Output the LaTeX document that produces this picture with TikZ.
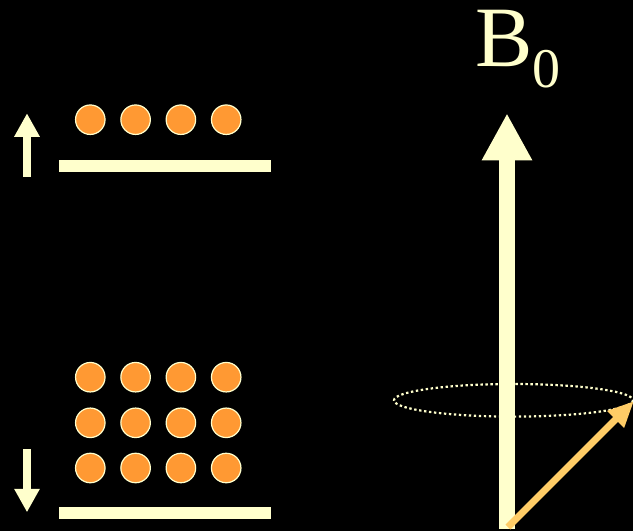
\documentclass[tikz,border=0pt]{standalone}
\usepackage{fontspec}
\setmainfont{Liberation Serif}
\usetikzlibrary{arrows.meta}
\definecolor{pale}{HTML}{FFFFCC}
\definecolor{spin}{HTML}{FF9933}
\definecolor{gold}{HTML}{FFCC66}
\tikzset{
  spindot/.style={circle,fill=spin,draw=pale,line width=1.2pt,minimum size=29.5pt,inner sep=0pt},
  level/.style={draw=pale,line width=12pt},
  spinarrow/.style={draw=pale,line width=7.7pt,-{Triangle[width=24pt,length=23.5pt]},fill=pale}
}
\begin{document}
\begin{tikzpicture}[x=1pt,y=-1pt]
\useasboundingbox (0,0) rectangle (633,531);
\fill[black] (0,0) rectangle (633,531);

\coordinate (upL) at (59,166);
\coordinate (upR) at (271,166);
\coordinate (lowL) at (59,513);
\coordinate (lowR) at (271,513);
\draw[level] (upL)--(upR);
\draw[level] (lowL)--(lowR);

\foreach \i in {1,...,4}
  \node[spindot] (up\i) at ({45+45.3*\i},119.7) {};
\foreach \r/\y in {1/377.2,2/422.8,3/468}
  \foreach \i in {1,...,4}
    \node[spindot] (low\r\i) at ({45+45.3*\i},\y) {};

\coordinate (upS) at (27,176.7);
\coordinate (upE) at (27,113.3);
\coordinate (downS) at (27,449);
\coordinate (downE) at (27,512.3);
\draw[spinarrow] (upS)--(upE);
\draw[spinarrow] (downS)--(downE);

\draw[pale,line width=2.2pt,dash pattern=on 2.4pt off 2.6pt] (513.5,400.3) ellipse (119.5 and 16.3);

\coordinate (fieldS) at (507,529);
\coordinate (fieldE) at (507,113.3);
\draw[pale,fill=pale,line width=16pt,-{Triangle[width=47pt,length=47pt]}] (fieldS)--(fieldE);

\coordinate (momS) at (508,527);
\coordinate (momE) at (634,401);
\draw[gold,fill=gold,line width=7pt,-{Triangle[width=22pt,length=26pt]}] (momS)--(momE);

\node[pale,anchor=base west,inner sep=0pt,font=\fontsize{86}{90}\selectfont] (field) at (475,66.7)
  {B\raisebox{-21pt}{\fontsize{56}{60}\selectfont 0}};
\end{tikzpicture}
\end{document}
